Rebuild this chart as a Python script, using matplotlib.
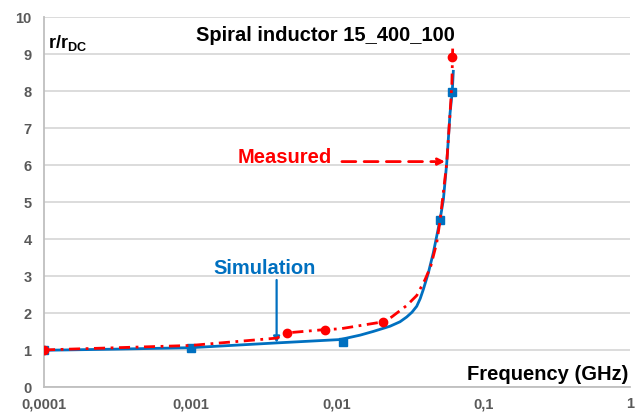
import matplotlib
matplotlib.use('Agg')
import matplotlib.pyplot as plt

plt.rcParams['font.family'] = ['Liberation Sans', 'DejaVu Sans']
plt.rcParams['mathtext.fontset'] = 'custom'
plt.rcParams['mathtext.rm'] = 'Liberation Sans'
plt.rcParams['mathtext.bf'] = 'Liberation Sans:bold'

# Simulation curve (frequency in GHz, r/rDC)
sim_f = [0.0001, 0.0003, 0.001, 0.0039, 0.0105, 0.0144, 0.0177, 0.023, 0.0269, 0.0299,
         0.0325, 0.035, 0.037, 0.0388, 0.042, 0.0454, 0.0479, 0.0505, 0.0532, 0.0561,
         0.0591, 0.0612, 0.0622]
sim_r = [1.0, 1.03, 1.07, 1.2, 1.29, 1.41, 1.51, 1.65, 1.77, 1.9,
         2.03, 2.19, 2.4, 2.64, 3.09, 3.63, 4.08, 4.53, 5.07, 6.06,
         7.41, 8.0, 8.54]
sim_mark_f = [0.0001, 0.001, 0.011, 0.0505, 0.0612]
sim_mark_r = [1.0, 1.07, 1.22, 4.53, 7.99]

# Measured curve
meas_f = [0.0001, 0.001, 0.0039, 0.00454, 0.00828, 0.0105, 0.0207, 0.0236, 0.0299,
          0.035, 0.0399, 0.0436, 0.0479, 0.0505, 0.0561, 0.0591, 0.0608, 0.0614, 0.0617]
meas_r = [1.01, 1.13, 1.33, 1.47, 1.56, 1.58, 1.77, 1.90, 2.21,
          2.48, 2.91, 3.27, 3.90, 4.5, 6.06, 7.41, 8.2, 8.91, 9.3]
meas_mark_f = [0.0001, 0.00454, 0.00828, 0.0207, 0.0614]
meas_mark_r = [1.01, 1.48, 1.56, 1.77, 8.93]

x_ticks = [0.0001, 0.001, 0.01, 0.1, 1]
x_labels = ['0,0001', '0,001', '0,01', '0,1', '1']
y_ticks = [0, 1, 2, 3, 4, 5, 6, 7, 8, 9, 10]

blue = '#0070C0'
red = '#FF0000'
gray = '#595959'

fig = plt.figure(figsize=(6.36, 4.12), dpi=100)
ax = fig.add_axes([0.0692, 0.06, 0.9214, 0.898])

ax.plot(sim_f, sim_r, color=blue, lw=2.0, zorder=3)
ax.plot(sim_mark_f, sim_mark_r, 's', color=blue, ms=5.5, zorder=3)
ax.plot(meas_f, meas_r, color=red, lw=2.0, dashes=(4, 2, 1, 2), zorder=4)
ax.plot(meas_mark_f, meas_mark_r, 'o', color=red, ms=6, zorder=4)

ax.set_xscale('log')
ax.set_xlim(0.0001, 1)
ax.set_ylim(0, 10)
ax.set_xticks(x_ticks)
ax.set_xticklabels(x_labels)
ax.minorticks_off()
ax.set_yticks(y_ticks)
ax.tick_params(length=0, labelsize=10.5, labelcolor=gray)
ax.tick_params(axis='y', pad=9)
ax.tick_params(axis='x', pad=7)
for lab in ax.get_xticklabels() + ax.get_yticklabels():
    lab.set_fontweight('bold')

ax.grid(axis='y', color='#D9D9D9', lw=1.3)
ax.set_axisbelow(True)
for s in ['top', 'right']:
    ax.spines[s].set_visible(False)
ax.spines['left'].set_color('#BFBFBF')
ax.spines['bottom'].set_color('#BFBFBF')
ax.spines['left'].set_linewidth(1.3)
ax.spines['bottom'].set_linewidth(1.3)

ax.text(0.0084, 9.52, 'Spiral inductor 15_400_100', fontsize=14.5, fontweight='bold',
        ha='center', va='center')
ax.text(0.000106, 9.3, r'$\mathbf{r/r}_{\mathbf{DC}}$', fontsize=13, ha='left', va='center')
ax.text(0.98, 0.35, 'Frequency (GHz)', fontsize=14.5, fontweight='bold', ha='right', va='center')

ax.text(0.00442, 6.22, 'Measured', color=red, fontsize=14.5, fontweight='bold',
        ha='center', va='center')
ax.annotate('', xy=(0.0546, 6.1), xytext=(0.0108, 6.1),
            arrowprops=dict(arrowstyle='-|>', color=red, lw=2, linestyle=(0, (5, 3)),
                            mutation_scale=10, shrinkA=0, shrinkB=0))

ax.text(0.00322, 3.22, 'Simulation', color=blue, fontsize=14.5, fontweight='bold',
        ha='center', va='center')
ax.annotate('', xy=(0.00387, 1.2), xytext=(0.00387, 2.9),
            arrowprops=dict(arrowstyle='-|>', color=blue, lw=1.6,
                            mutation_scale=9, shrinkA=0, shrinkB=0))

fig.savefig('out.png', dpi=100)
